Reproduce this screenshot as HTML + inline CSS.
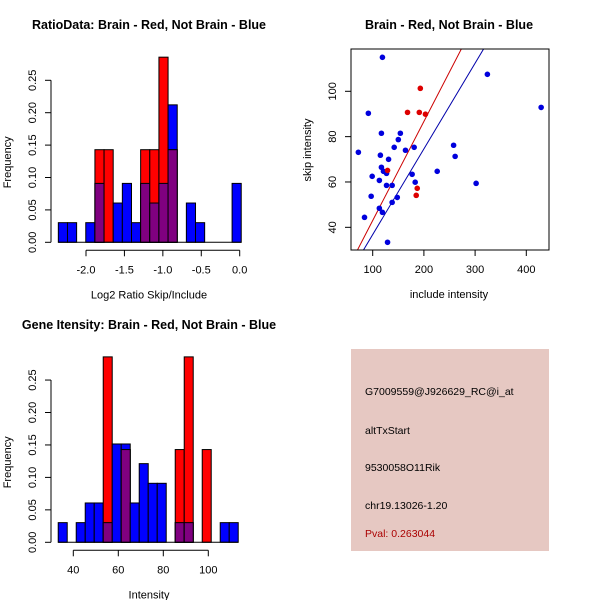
<!DOCTYPE html>
<html><head><meta charset="utf-8"><style>
body{margin:0;background:#fff}
svg{display:block;font-family:"Liberation Sans",sans-serif}
</style></head><body>
<svg id="c" width="600" height="600" xmlns="http://www.w3.org/2000/svg"></svg>
<script>
// Ratio histogram data (20 bins)
const ratioBinStart = -2.36;
const ratioBinWidth = 0.119;
const ratioBlue = [0.0303,0.0303,0,0.0303,0.0909,0,0.0606,0.0909,0.0303,0.0909,0.0606,0.0909,0.2121,0,0.0606,0.0303,0,0,0,0.0909];
const ratioRed  = [0,0,0,0,0.1429,0.1429,0,0,0,0.1429,0.1429,0.2857,0.1429,0,0,0,0,0,0,0];
const ratioXTicks = [-2.0,-1.5,-1.0,-0.5,0.0];
const ratioXLabels = ["-2.0","-1.5","-1.0","-0.5","0.0"];
const freqTicks = [0,0.05,0.10,0.15,0.20,0.25];
const freqLabels = ["0.00","0.05","0.10","0.15","0.20","0.25"];
// Intensity histogram data
const intBinStart = 33.3;
const intBinWidth = 4;
const intBlue = [0.0303,0,0.0303,0.0606,0.0606,0.0303,0.1515,0.1515,0.0606,0.1212,0.0909,0.0909,0,0.0303,0.0303,0,0,0,0.0303,0.0303];
const intRed  = [0,0,0,0,0,0.2857,0,0.1429,0,0,0,0,0,0.1429,0.2857,0,0.1429,0,0,0];
const intXTicks = [40,60,80,100];
// Scatter data
const blueInclude = [119,72,91.5,117,154,150,142,164,181,115,131,117,121,127,99,113,127,138,177,183,226,258,261,302,324,429,97,148,138,113,119,84,129];
const blueSkip    = [115,73.1,90.3,81.5,81.5,78.7,75.3,74,75.3,71.8,70,66.5,64.7,63.8,62.5,60.7,58.5,58.5,63.4,59.9,64.7,76.2,71.3,59.4,107.5,92.9,53.7,53.2,51,48.4,46.6,44.4,33.4];
const redInclude = [129,168,191,203,193,187,185];
const redSkip    = [65.1,90.7,90.7,89.9,101.3,57.2,54.1];
const redFit = [-0.7,0.437];
const blueFit = [-1.0,0.378];
const scXTicks = [100,200,300,400];
const scYTicks = [40,60,80,100];

const svg=document.getElementById('c');
const NS="http://www.w3.org/2000/svg";
function mk(tag,attrs,name,parent){const e=document.createElementNS(NS,tag);for(const k in attrs)e.setAttribute(k,attrs[k]);


(parent||svg).appendChild(e);return e;}
function txt(x,y,s,name,opts){const t=mk('text',Object.assign({x:x,y:y,'font-size':11,'text-anchor':'middle',fill:'#000'},opts||{}),name);t.textContent=s;return t;}

function hist(o){
  const g=mk('g',{},o.name);
  const sx=v=>o.x0+(v-o.xv0)*o.kx, sy=v=>o.y0-v*o.ky;
  for(let i=0;i<o.blue.length;i++){
    const a=sx(o.start+i*o.w), b=sx(o.start+(i+1)*o.w);
    const bl=o.blue[i], rd=o.red[i];
    if(bl>0){mk('rect',{x:a,y:sy(bl),width:b-a,height:sy(0)-sy(bl),fill:'#0000ff',stroke:'#000','stroke-width':1},'blue-bar',g);}
    if(rd>0){mk('rect',{x:a,y:sy(rd),width:b-a,height:sy(0)-sy(rd),fill:'#ff0000',stroke:'#000','stroke-width':1},'red-bar',g);}
    const m=Math.min(bl,rd);
    if(m>0){mk('rect',{x:a,y:sy(m),width:b-a,height:sy(0)-sy(m),fill:'#800080',stroke:'#000','stroke-width':1},'overlap-bar',g);}
  }
  mk('line',{x1:sx(o.start),x2:sx(o.start+o.blue.length*o.w),y1:o.y0,y2:o.y0,stroke:'#000'},'baseline',g);
  mk('line',{x1:o.yax,x2:o.yax,y1:sy(0),y2:sy(0.25),stroke:'#000'},'y-axis',g);
  freqTicks.forEach((t,i)=>{mk('line',{x1:o.yax-6,x2:o.yax,y1:sy(t),y2:sy(t),stroke:'#000'},'y-tick',g);
    txt(o.yax-15,sy(t),freqLabels[i],'y-tick-label',{transform:`rotate(-90 ${o.yax-15} ${sy(t)})`});});
  const xa=o.y0+8;
  mk('line',{x1:sx(o.xt[0]),x2:sx(o.xt[o.xt.length-1]),y1:xa,y2:xa,stroke:'#000'},'x-axis',g);
  o.xt.forEach((t,i)=>{mk('line',{x1:sx(t),x2:sx(t),y1:xa,y2:xa+6,stroke:'#000'},'x-tick',g);
    txt(sx(t),xa+23,o.xl[i],'x-tick-label');});
  txt(o.cx,o.y0+56,o.xlab,'x-axis-title');
  txt(11,o.y0-80,'Frequency','y-axis-title',{transform:`rotate(-90 11 ${o.y0-80})`});
  txt(o.cx,o.ty,o.title,'plot-title',{'font-weight':'bold','font-size':12.5});
}
hist({name:'ratio-histogram',blue:ratioBlue,red:ratioRed,start:ratioBinStart,w:ratioBinWidth,x0:86,xv0:-2.0,kx:76.85,y0:242.3,ky:648,yax:51,xt:ratioXTicks,xl:ratioXLabels,xlab:'Log2 Ratio Skip/Include',cx:149,title:'RatioData: Brain - Red, Not Brain - Blue',ty:29});
hist({name:'intensity-histogram',blue:intBlue,red:intRed,start:intBinStart,w:intBinWidth,x0:73.3,xv0:40,kx:2.25,y0:542.3,ky:649,yax:51,xt:intXTicks,xl:intXTicks.map(String),xlab:'Intensity',cx:149,title:'Gene Itensity: Brain - Red, Not Brain - Blue',ty:329});

// scatter
(function(){
  const g=mk('g',{},'scatter-plot');
  const L=351,R=549,T=49,B=250;
  const sx=v=>372.7+(v-100)*0.512, sy=v=>91.3-(v-100)*2.267;
  const cp=mk('clipPath',{id:'clip'},'clip',g);mk('rect',{x:L,y:T,width:R-L,height:B-T},'clip-rect',cp);
  [[redFit,'#cc0000','red-fit-line'],[blueFit,'#0000aa','blue-fit-line']].forEach(([f,c,n])=>{
    mk('line',{x1:sx(0),y1:sy(f[0]),x2:sx(600),y2:sy(f[0]+f[1]*600),stroke:c,'clip-path':'url(#clip)'},n,g);});
  blueInclude.forEach((v,i)=>mk('circle',{cx:sx(v),cy:sy(blueSkip[i]),r:2.8,fill:'#0000dd'},'blue-point',g));
  redInclude.forEach((v,i)=>mk('circle',{cx:sx(v),cy:sy(redSkip[i]),r:2.8,fill:'#dd0000'},'red-point',g));
  mk('rect',{x:L,y:T,width:R-L,height:B-T,fill:'none',stroke:'#000'},'plot-box',g);
  scXTicks.forEach(t=>{mk('line',{x1:sx(t),x2:sx(t),y1:B,y2:B+6,stroke:'#000'},'x-tick',g);txt(sx(t),B+23,String(t),'x-tick-label');});
  scYTicks.forEach(t=>{mk('line',{x1:L-6,x2:L,y1:sy(t),y2:sy(t),stroke:'#000'},'y-tick',g);
    txt(L-15,sy(t),String(t),'y-tick-label',{transform:`rotate(-90 ${L-15} ${sy(t)})`});});
  txt(449,298,'include intensity','x-axis-title');
  txt(311,150,'skip intensity','y-axis-title',{transform:'rotate(-90 311 150)'});
  txt(449,29,'Brain - Red, Not Brain - Blue','plot-title',{'font-weight':'bold','font-size':12.5});
})();
// info panel
mk('rect',{x:351,y:349,width:198,height:202,fill:'#e6c8c2'},'info-panel');
[['G7009559@J926629_RC@i_at',395,'#000','probe-id'],['altTxStart',434,'#000','event-type'],['9530058O11Rik',471,'#000','gene-name'],['chr19.13026-1.20',509,'#000','location'],['Pval: 0.263044',537,'#aa0000','p-value']].forEach(([s,y,c,n])=>txt(365,y,s,n,{'text-anchor':'start',fill:c,'font-size':10.5}));
</script>
</body></html>
